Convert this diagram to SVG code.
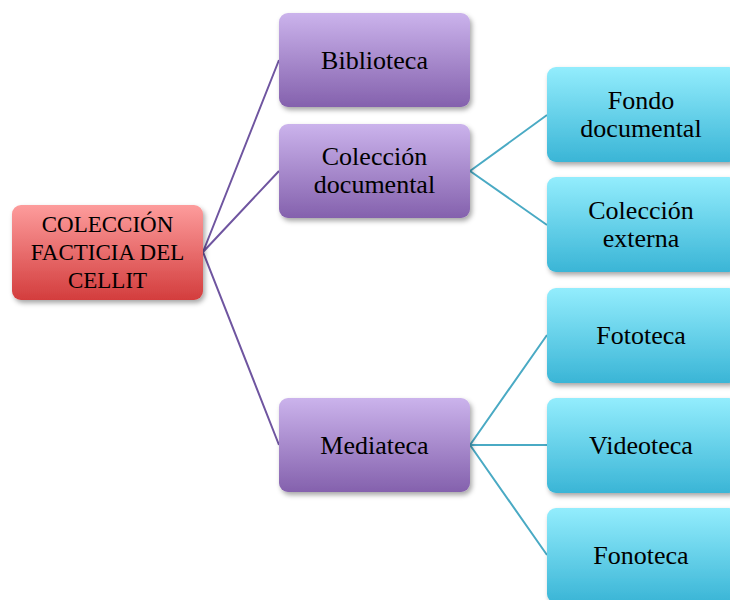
<svg xmlns="http://www.w3.org/2000/svg" width="730" height="600" viewBox="0 0 730 600">
<defs>
<linearGradient id="gRed" x1="0" y1="0" x2="0" y2="1"><stop offset="0" stop-color="#fd9c9c"/><stop offset="1" stop-color="#d33d3d"/></linearGradient>
<linearGradient id="gPur" x1="0" y1="0" x2="0" y2="1"><stop offset="0" stop-color="#cbb3ec"/><stop offset="1" stop-color="#8461ad"/></linearGradient>
<linearGradient id="gCya" x1="0" y1="0" x2="0" y2="1"><stop offset="0" stop-color="#93edfd"/><stop offset="1" stop-color="#3ab5d6"/></linearGradient>
<filter id="sh" x="-10%" y="-10%" width="130%" height="140%"><feDropShadow dx="2" dy="3" stdDeviation="2.5" flood-color="#000" flood-opacity="0.35"/></filter>
</defs>
<style>
text{font-family:"Liberation Serif","DejaVu Serif",serif;font-size:26px;fill:#000;text-anchor:middle}
.root text{font-size:23px}
.box{filter:url(#sh)}
.c1{stroke:#6f55a0;stroke-width:2;fill:none}
.c2{stroke:#4aaac4;stroke-width:2;fill:none}
</style>
<g id="connectors">
<path class="c1" d="M203 252L279 60M203 252L279 171M203 252L279 445"/>
<path class="c2" d="M470 171L547 115M470 171L547 225M470 445L547 335M470 445L547 445M470 445L547 555"/>
</g>
<g id="root" class="root"><rect class="box" x="12" y="205" width="191" height="95" rx="9" fill="url(#gRed)"/>
<text x="107.5" y="232">COLECCIÓN</text><text x="107.5" y="260">FACTICIA DEL</text><text x="107.5" y="288">CELLIT</text></g>
<g id="biblioteca"><rect class="box" x="279" y="13" width="191" height="94" rx="9" fill="url(#gPur)"/><text x="374.5" y="69">Biblioteca</text></g>
<g id="coleccion-documental"><rect class="box" x="279" y="124" width="191" height="94" rx="9" fill="url(#gPur)"/><text x="374.5" y="165">Colección</text><text x="374.5" y="193">documental</text></g>
<g id="mediateca"><rect class="box" x="279" y="398" width="191" height="94" rx="9" fill="url(#gPur)"/><text x="374.5" y="454">Mediateca</text></g>
<g id="fondo-documental"><rect class="box" x="547" y="67" width="191" height="95" rx="9" fill="url(#gCya)"/><text x="641" y="109">Fondo</text><text x="641" y="137">documental</text></g>
<g id="coleccion-externa"><rect class="box" x="547" y="177" width="191" height="95" rx="9" fill="url(#gCya)"/><text x="641" y="219">Colección</text><text x="641" y="247">externa</text></g>
<g id="fototeca"><rect class="box" x="547" y="288" width="191" height="95" rx="9" fill="url(#gCya)"/><text x="641" y="344">Fototeca</text></g>
<g id="videoteca"><rect class="box" x="547" y="398" width="191" height="95" rx="9" fill="url(#gCya)"/><text x="641" y="454">Videoteca</text></g>
<g id="fonoteca"><rect class="box" x="547" y="508" width="191" height="95" rx="9" fill="url(#gCya)"/><text x="641" y="564">Fonoteca</text></g>
</svg>
